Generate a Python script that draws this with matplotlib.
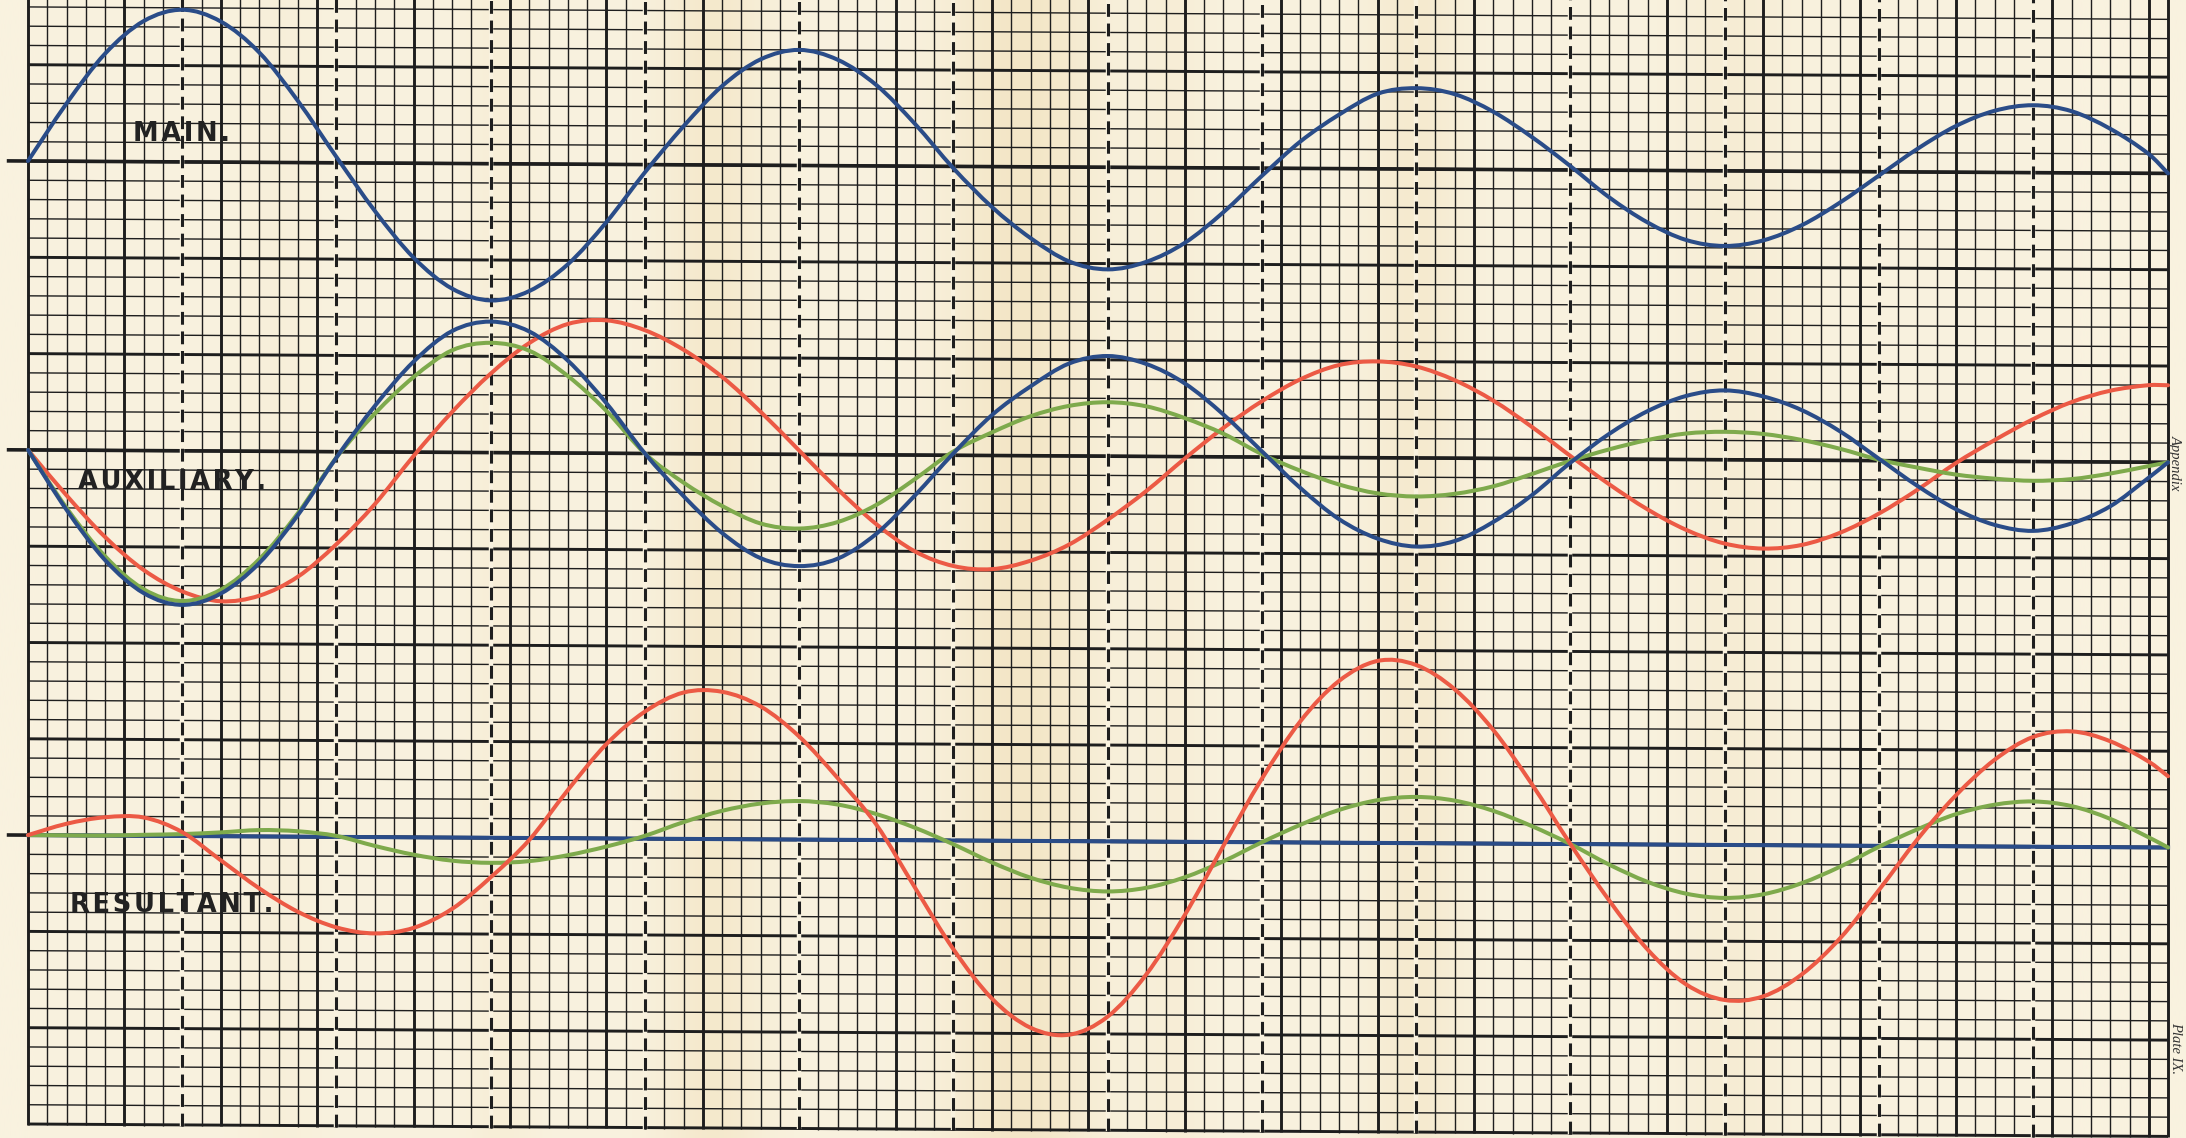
import matplotlib
matplotlib.use("Agg")
import numpy as np
import matplotlib.pyplot as plt
from matplotlib.path import Path
from matplotlib.patches import PathPatch
from matplotlib.transforms import Affine2D

# ---------------- data (minor grid units, read from the plate) ----------------
X = list(range(0, 111, 2)) + [111]

MAIN = [0, 3.0, 5.6, 7.3, 7.9, 7.3, 5.7, 3.2, 0.3, -2.5, -4.9, -6.5, -7.1,
        -6.6, -5.2, -3.0, -0.4, 2.0, 4.1, 5.5, 6.0, 5.5, 4.2, 2.2, -0.1,
        -2.1, -3.7, -4.9, -5.3, -4.9, -3.9, -2.3, -0.4, 1.4, 2.8, 3.9, 4.2,
        3.9, 3.0, 1.7, 0.2, -1.4, -2.7, -3.6, -3.9, -3.6, -2.8, -1.6, -0.2,
        1.2, 2.4, 3.2, 3.5, 3.2, 2.3, 1.0, 0.0]

AUX_BLUE = [0, -3.1, -5.7, -7.4, -8.0, -7.4, -5.8, -3.3, -0.3, 2.4, 4.7, 6.3, 6.8,
            6.3, 4.8, 2.6, 0.0, -2.2, -4.1, -5.4, -5.8, -5.4, -4.1, -2.1, 0.1,
            2.1, 3.6, 4.8, 5.2, 4.8, 3.8, 2.2, 0.3, -1.6, -3.2, -4.2, -4.6,
            -4.3, -3.3, -1.9, -0.2, 1.3, 2.5, 3.3, 3.6, 3.3, 2.6, 1.5, 0.1,
            -1.3, -2.5, -3.3, -3.6, -3.2, -2.3, -0.8, 0.0]

AUX_GREEN = [0, -3.0, -5.5, -7.2, -7.8, -7.2, -5.6, -3.2, -0.3, 2.0, 3.9, 5.3, 5.7,
             5.3, 4.0, 2.2, 0.0, -1.5, -2.7, -3.6, -3.85, -3.5, -2.6, -1.25, 0.2,
             1.2, 2.05, 2.6, 2.8, 2.6, 2.0, 1.2, 0.15, -0.7, -1.4, -1.85, -2.0,
             -1.85, -1.45, -0.8, -0.1, 0.5, 1.0, 1.35, 1.45, 1.35, 1.05, 0.6, 0.05,
             -0.35, -0.7, -0.9, -1.0, -0.9, -0.6, -0.2, 0.0]

AUX_RED = [0, -2.35, -4.5, -6.2, -7.3, -7.8, -7.5, -6.5, -4.8, -2.7, -0.2, 2.1, 4.1,
           5.7, 6.7, 6.9, 6.4, 5.4, 4.0, 2.2, 0.2, -1.8, -3.6, -5.0, -5.75,
           -5.9, -5.45, -4.6, -3.3, -1.8, -0.1, 1.5, 2.9, 4.05, 4.8, 5.0, 4.75,
           4.05, 3.0, 1.65, 0.15, -1.3, -2.6, -3.65, -4.35, -4.6, -4.4, -3.75, -2.75,
           -1.5, -0.1, 1.1, 2.2, 3.1, 3.7, 4.0, 4.0]

RES_RED = [0, 0.6, 0.95, 0.95, 0.2, -1.25, -2.7, -3.9, -4.7, -5.0, -4.7, -3.7, -2.05,
           -0.1, 2.5, 4.9, 6.6, 7.6, 7.65, 6.9, 5.35, 3.2, 0.8, -2.45, -5.65,
           -8.2, -9.7, -10.05, -9.1, -6.9, -3.8, -0.2, 3.3, 6.3, 8.4, 9.45, 9.25,
           8.0, 5.9, 3.1, 0.0, -2.9, -5.45, -7.25, -8.05, -7.85, -6.7, -4.8, -2.3,
           0.35, 2.65, 4.5, 5.7, 6.0, 5.5, 4.45, 3.7]

RES_GREEN = [0, 0, 0.0, 0.05, 0.1, 0.2, 0.33, 0.28, 0.05, -0.46, -0.9, -1.2, -1.3,
             -1.2, -0.88, -0.42, 0.15, 0.87, 1.47, 1.86, 2.0, 1.83, 1.35, 0.65, -0.2,
             -1.13, -1.91, -2.42, -2.6, -2.4, -1.84, -1.0, 0.0, 0.92, 1.7, 2.22, 2.4,
             2.22, 1.7, 0.92, 0.0, -1.05, -1.94, -2.54, -2.75, -2.55, -1.96, -1.09, -0.05,
             0.87, 1.67, 2.17, 2.35, 2.12, 1.47, 0.52, 0.0]

X_FLAT = [0, 111]
RES_BLUE = [0.0, 0.0]

LABELS = ["MAIN.", "AUXILIARY.", "RESULTANT."]
MARGIN_TEXT = ["Appendix", "Plate IX."]

# ---------------- layout / style constants ----------------
MAIN_ZERO, AUX_ZERO, RES_ZERO = 50, 35, 15
XMAX, YTOP = 111, 58.36
BLUE, RED, GREEN = "#2a4c88", "#ec5a45", "#7eaa4c"
INK = "#1e1e1e"
PAPER = np.array([249, 242, 223]) / 255.0
STAIN = np.array([236, 214, 166]) / 255.0
SHEAR = 0.0058          # the scanned sheet is very slightly tilted

fig = plt.figure(figsize=(21.86, 11.38), dpi=100, facecolor=PAPER)
ax = fig.add_axes([0, 0, 1, 1])
XL, YL = (-1.452, 111.93), (-0.727, YTOP)
ax.set_xlim(*XL)
ax.set_ylim(*YL)
ax.axis("off")
ax.set_facecolor(PAPER)

T = ax.transData + Affine2D(np.array([[1.0, 0.0, 0.0],
                                      [-SHEAR, 1.0, SHEAR * 28.0],
                                      [0.0, 0.0, 1.0]]))

# paper tone with soft vertical stains
xs = np.linspace(XL[0], XL[1], 800)
prof = np.zeros_like(xs)
for c, w, a in [(35.5, 2.0, 0.32), (51.5, 2.8, 0.42), (72.0, 1.8, 0.28),
                (88.5, 2.2, 0.18), (24.5, 1.3, 0.14), (59.5, 1.3, 0.14), (13.0, 1.6, 0.09)]:
    prof += a * np.exp(-0.5 * ((xs - c) / w) ** 2)
prof = np.clip(prof, 0, 1)
img = PAPER[None, None, :] * (1 - prof[None, :, None]) + STAIN[None, None, :] * prof[None, :, None]
ax.imshow(img, extent=(XL[0], XL[1], YL[0], YL[1]), aspect="auto", zorder=0,
          interpolation="bilinear")

# ---------------- graph paper ----------------
for i in range(0, XMAX + 1):
    major = (i % 5 == 0) or i == XMAX
    ax.vlines(i, -0.05, YTOP + 1, color=INK, lw=2.1 if major else 1.0, zorder=1, transform=T)
for j in range(0, 59):
    major = (j % 5 == 0)
    ax.hlines(j, 0, XMAX, color=INK, lw=2.1 if major else 1.0, zorder=1, transform=T)
for z in (MAIN_ZERO, AUX_ZERO, RES_ZERO):
    ax.hlines(z, -1.1, XMAX, color=INK, lw=2.6, zorder=1.5, transform=T)

# dashed ordinates every 8 divisions
for d in range(8, XMAX, 8):
    ax.vlines(d, -0.05, YTOP + 1, color=PAPER, lw=3.2, zorder=2, transform=T)
    ax.vlines(d, -0.05, YTOP + 1, color=INK, lw=2.2, zorder=2.1,
              linestyles=(0, (4.2, 2.2)), transform=T)


# ---------------- curves (smooth path through the read points) ----------------
def smooth_curve(xv, yv, color):
    P = np.column_stack([xv, yv]).astype(float)
    n = len(P)
    verts = [P[0]]
    codes = [Path.MOVETO]
    for k in range(n - 1):
        p0 = P[k - 1] if k > 0 else P[k]
        p1, p2 = P[k], P[k + 1]
        p3 = P[k + 2] if k + 2 < n else P[k + 1]
        h = p2[0] - p1[0]
        c1 = p1 + (p2 - p0) / 6.0 * (h / max((p2[0] - p0[0]) / 2.0, 1e-9) if k > 0 else 1.0)
        c2 = p2 - (p3 - p1) / 6.0 * (h / max((p3[0] - p1[0]) / 2.0, 1e-9) if k + 2 < n else 1.0)
        verts += [c1, c2, p2]
        codes += [Path.CURVE4] * 3
    patch = PathPatch(Path(verts, codes), fill=False, edgecolor=color, lw=2.9,
                      joinstyle="round", capstyle="round", zorder=5, transform=T)
    ax.add_patch(patch)


smooth_curve(X, [MAIN_ZERO + v for v in MAIN], BLUE)

smooth_curve(X, [AUX_ZERO + v for v in AUX_RED], RED)
smooth_curve(X, [AUX_ZERO + v for v in AUX_GREEN], GREEN)
smooth_curve(X, [AUX_ZERO + v for v in AUX_BLUE], BLUE)

ax.plot(X_FLAT, [RES_ZERO + v for v in RES_BLUE], color=BLUE, lw=2.9, zorder=5, transform=T)
smooth_curve(X, [RES_ZERO + v for v in RES_GREEN], GREEN)
smooth_curve(X, [RES_ZERO + v for v in RES_RED], RED)


# ---------------- labels ----------------
def spaced(s):
    return "\u200a".join(s)


lab_kw = dict(fontsize=18.5, fontweight="bold", family="DejaVu Sans", color="#222222",
              ha="left", va="baseline", zorder=6, transform=T)
ax.text(5.45, 51.05, spaced(LABELS[0]), **lab_kw)
ax.text(2.6, 33.0, spaced(LABELS[1]), **lab_kw)
ax.text(2.2, 11.0, spaced(LABELS[2]), **lab_kw)

# margin text in the narrow strip right of the sheet
side_kw = dict(fontsize=10.5, style="italic", family="Liberation Serif", color="#333333",
               rotation=-90, rotation_mode="anchor", ha="center", va="baseline",
               zorder=6, transform=T)
ax.text(111.2, 35.0, MARGIN_TEXT[0], **side_kw)
ax.text(111.2, 4.6, MARGIN_TEXT[1], **side_kw)

fig.savefig("out.png", dpi=100, facecolor=PAPER)
